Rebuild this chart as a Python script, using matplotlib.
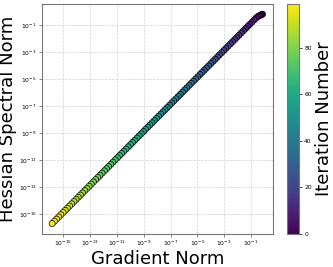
import numpy as np
import matplotlib
matplotlib.use("Agg")
import matplotlib.pyplot as plt
from matplotlib.ticker import FixedLocator, LogFormatterSciNotation, NullLocator

# log10 of gradient norm per iteration
grad_log10 = [
    -0.14, -0.21, -0.29, -0.38, -0.48,
    -0.60, -0.76, -0.92, -1.09, -1.25,
    -1.41, -1.57, -1.73, -1.90, -2.06,
    -2.22, -2.38, -2.54, -2.71, -2.87,
    -3.03, -3.19, -3.36, -3.52, -3.68,
    -3.84, -4.00, -4.17, -4.33, -4.49,
    -4.65, -4.81, -4.98, -5.14, -5.30,
    -5.46, -5.62, -5.79, -5.95, -6.11,
    -6.27, -6.43, -6.60, -6.76, -6.92,
    -7.08, -7.25, -7.41, -7.57, -7.73,
    -7.89, -8.06, -8.22, -8.38, -8.54,
    -8.70, -8.87, -9.03, -9.19, -9.35,
    -9.51, -9.68, -9.84, -10.00, -10.16,
    -10.32, -10.49, -10.65, -10.81, -10.97,
    -11.13, -11.30, -11.46, -11.62, -11.78,
    -11.94, -12.11, -12.27, -12.43, -12.59,
    -12.76, -12.92, -13.08, -13.24, -13.40,
    -13.57, -13.73, -13.89, -14.05, -14.21,
    -14.38, -14.54, -14.70, -14.86, -15.02,
    -15.19, -15.35, -15.51, -15.67, -15.84,
]
# log10 of Hessian spectral norm per iteration
hess_log10 = [
    -0.19, -0.22, -0.26, -0.30, -0.36,
    -0.45, -0.61, -0.77, -0.94, -1.10,
    -1.26, -1.42, -1.58, -1.75, -1.91,
    -2.07, -2.23, -2.39, -2.56, -2.72,
    -2.88, -3.04, -3.21, -3.37, -3.53,
    -3.69, -3.85, -4.02, -4.18, -4.34,
    -4.50, -4.66, -4.83, -4.99, -5.15,
    -5.31, -5.47, -5.64, -5.80, -5.96,
    -6.12, -6.28, -6.45, -6.61, -6.77,
    -6.93, -7.10, -7.26, -7.42, -7.58,
    -7.74, -7.91, -8.07, -8.23, -8.39,
    -8.55, -8.72, -8.88, -9.04, -9.20,
    -9.36, -9.53, -9.69, -9.85, -10.01,
    -10.17, -10.34, -10.50, -10.66, -10.82,
    -10.98, -11.15, -11.31, -11.47, -11.63,
    -11.79, -11.96, -12.12, -12.28, -12.44,
    -12.61, -12.77, -12.93, -13.09, -13.25,
    -13.42, -13.58, -13.74, -13.90, -14.06,
    -14.23, -14.39, -14.55, -14.71, -14.87,
    -15.04, -15.20, -15.36, -15.52, -15.69,
]
iterations = list(range(len(grad_log10)))
tick_values = [1e-15, 1e-13, 1e-11, 1e-9, 1e-7, 1e-5, 1e-3, 1e-1]
cbar_ticks = [0, 20, 40, 60, 80]

grad = 10.0 ** np.array(grad_log10)
hess = 10.0 ** np.array(hess_log10)

fig = plt.figure(figsize=(3.33, 2.67), dpi=100)
ax = fig.add_axes([0.125, 0.1236, 0.695, 0.8625])
cax = fig.add_axes([0.863, 0.1236, 0.036, 0.8625])

sc = ax.scatter(grad, hess, c=iterations, cmap="viridis", s=19,
                edgecolors="black", linewidths=0.5, zorder=3)
ax.set_xscale("log")
ax.set_yscale("log")
for axis in (ax.xaxis, ax.yaxis):
    axis.set_major_locator(FixedLocator(tick_values))
    axis.set_major_formatter(LogFormatterSciNotation())
    axis.set_minor_locator(NullLocator())
ax.tick_params(labelsize=4.3, length=2, width=0.5, color="#555555", pad=1.5)
ax.grid(True, which="major", linestyle="--", color="#d0d0d0", linewidth=0.5)
for sp in ax.spines.values():
    sp.set_color("#777777")
    sp.set_linewidth(0.8)
ax.set_xlabel("Gradient Norm", fontsize=13, labelpad=1)
ax.set_ylabel("Hessian Spectral Norm", fontsize=13, labelpad=1)

cb = fig.colorbar(sc, cax=cax)
cb.set_ticks(cbar_ticks)
cb.ax.tick_params(labelsize=4.3, length=2, width=0.5, pad=1.5)
cb.outline.set_edgecolor("#777777")
cb.outline.set_linewidth(0.8)
cb.set_label("Iteration Number", fontsize=13, labelpad=2)

fig.savefig("out.png", dpi=100)
